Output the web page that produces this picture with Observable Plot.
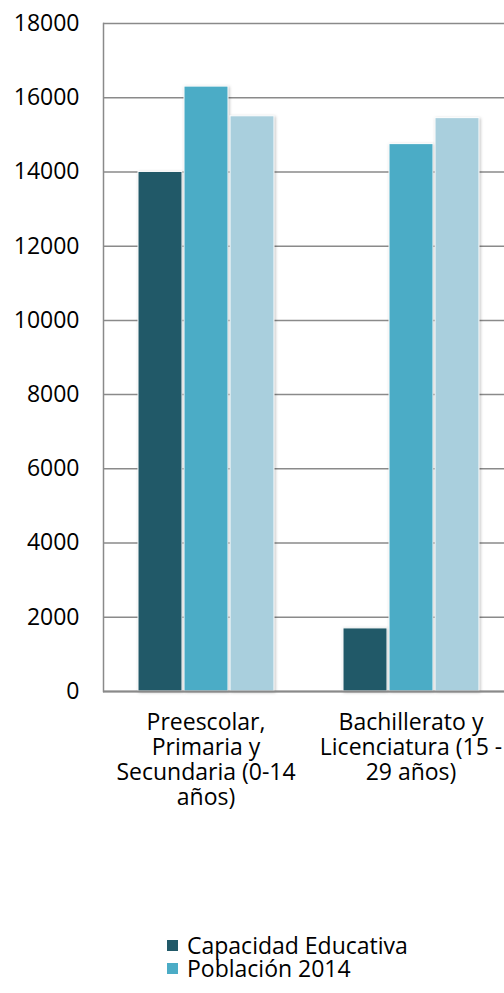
<!DOCTYPE html>
<html>
<head>
<meta charset="utf-8">
<script src="https://cdn.jsdelivr.net/npm/d3@7"></script>
<script src="https://cdn.jsdelivr.net/npm/@observablehq/plot@0.6"></script>
<style>
  body { margin: 0; background: #fff; font-family: "Open Sans", sans-serif; }
  #chart svg { display: block; overflow: hidden; }
  g[aria-label="bar"] rect { filter: drop-shadow(1.5px 1.5px 1.5px rgba(0,0,0,0.25)); }
  #legend { padding-left: 167px; margin-top: 54px; font-size: 23px; line-height: 23px; color: #000; }
  #legend .item { display: flex; align-items: center; white-space: nowrap; height: 23px; }
  #legend .sw { width: 11px; height: 11px; margin-right: 9px; display: inline-block; }
</style>
</head>
<body>
<div id="chart"></div>
<div id="legend"></div>
<script>
const categories = ["Preescolar, Primaria y Secundaria (0-14 años)", "Bachillerato y Licenciatura (15 - 29 años)"];
const categoryLabels = ["Preescolar,\nPrimaria y\nSecundaria (0-14\naños)", "Bachillerato y\nLicenciatura (15 -\n29 años)"];
const series = ["Capacidad Educativa", "Población 2014", "Población 2030"];
const legendSeries = ["Capacidad Educativa", "Población 2014"];
const colors = ["#215968", "#4BACC6", "#A9CFDD"];
const capacidad = [14000, 1700];
const poblacion2014 = [16300, 14750];
const poblacion3 = [15500, 15450];
const yTicks = [0, 2000, 4000, 6000, 8000, 10000, 12000, 14000, 16000, 18000];

const values = [capacidad, poblacion2014, poblacion3];
const data = [];
categories.forEach((c, i) => series.forEach((s, j) => data.push({cat: c, series: s, value: values[j][i]})));
const labelData = categories.map((c, i) => ({cat: c, label: categoryLabels[i]}));

const chart = Plot.plot({
  width: 504,
  height: 880,
  marginTop: 23,
  marginBottom: 189,
  marginLeft: 103,
  marginRight: -9,
  style: {fontFamily: "'Open Sans', sans-serif", color: "#000", background: "#fff"},
  fx: {domain: categories, padding: 0, axis: null},
  x: {domain: series, paddingInner: 0.05, paddingOuter: 0.73, axis: null},
  y: {domain: [0, 18000], axis: null},
  color: {domain: series, range: colors},
  marks: [
    Plot.ruleY(yTicks, {y: d => d, stroke: "#8a8a8a", strokeWidth: 1.5}),
    Plot.barY(data, {fx: "cat", x: "series", y: "value", fill: "series", stroke: "#fff", strokeWidth: 1}),
    Plot.ruleY([0], {stroke: "#8a8a8a", strokeWidth: 2}),
    Plot.frame({anchor: "left", stroke: "#8a8a8a", strokeWidth: 1.5, fx: () => categories[0]}),
    Plot.axisY({ticks: yTicks, tickSize: 0, tickPadding: 24, fontSize: 23, label: null, tickFormat: d => String(d), fx: categories[0], anchor: "left"}),
    Plot.text(labelData, {fx: "cat", text: "label", frameAnchor: "bottom", lineAnchor: "top", dy: 21, fontSize: 23, lineHeight: 1.087, fill: "#000"})
  ]
});
document.getElementById("chart").appendChild(chart);

const legend = document.getElementById("legend");
legendSeries.forEach(s => {
  const item = document.createElement("div");
  item.className = "item";
  const sw = document.createElement("span");
  sw.className = "sw";
  sw.style.background = colors[series.indexOf(s)];
  item.appendChild(sw);
  item.appendChild(document.createTextNode(s));
  legend.appendChild(item);
});
</script>
</body>
</html>
